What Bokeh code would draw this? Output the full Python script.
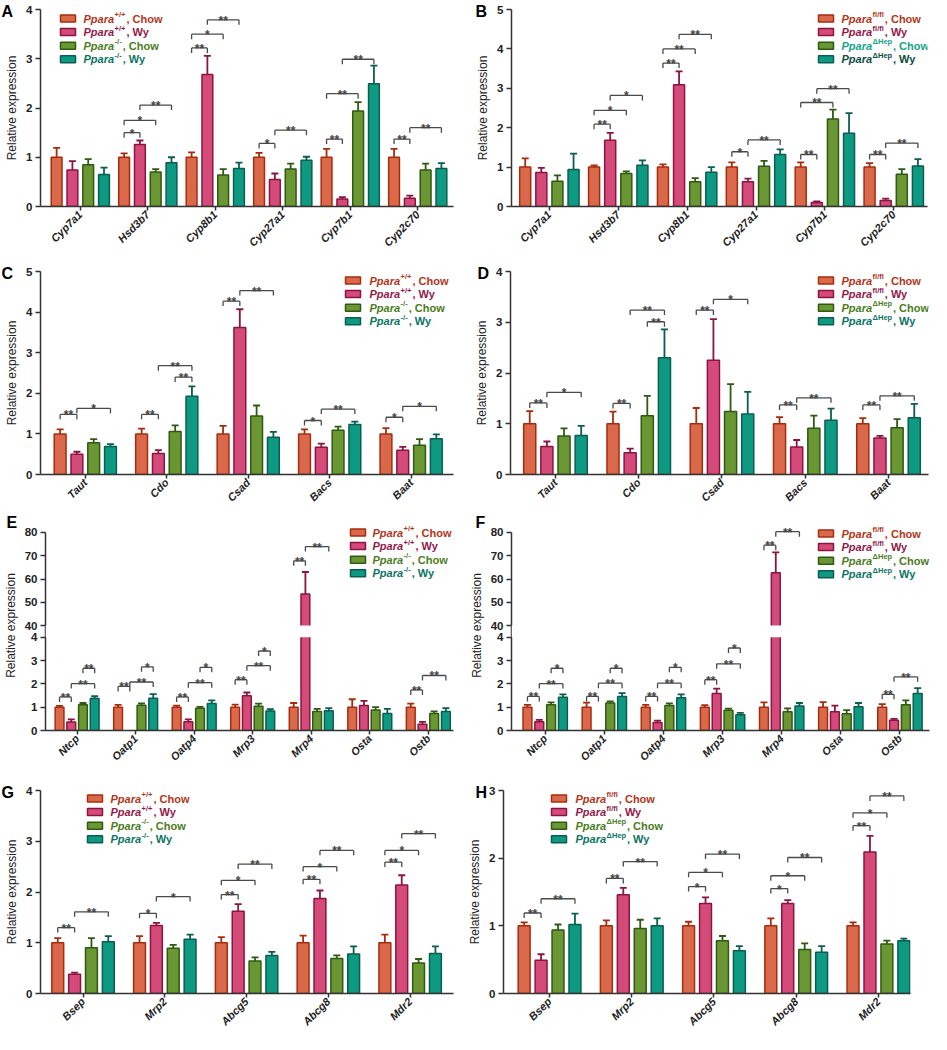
import math
import numpy as np
from bokeh.plotting import figure
from bokeh.models import (ColumnDataSource, Range1d, FixedTicker, Whisker, TeeHead,
                          Label, BoxAnnotation)
from bokeh.layouts import column, row
from bokeh.embed import file_html
from bokeh.resources import INLINE
from bokeh.core.properties import value
from bokeh.transform import dodge

FONT = "Liberation Sans"
NAN = float("nan")

# ---------------- data ----------------
genes_AB = ["Cyp7a1", "Hsd3b7", "Cyp8b1", "Cyp27a1", "Cyp7b1", "Cyp2c70"]
genes_CD = ["Taut", "Cdo", "Csad", "Bacs", "Baat"]
genes_EF = ["Ntcp", "Oatp1", "Oatp4", "Mrp3", "Mrp4", "Osta", "Ostb"]
genes_GH = ["Bsep", "Mrp2", "Abcg5", "Abcg8", "Mdr2"]

# Panel A (Ppara+/+ vs Ppara-/-)
A_chow_wt = [1.00, 1.00, 1.00, 1.00, 1.00, 1.00]
A_wy_wt = [0.74, 1.26, 2.68, 0.55, 0.15, 0.17]
A_chow_ko = [0.85, 0.70, 0.64, 0.76, 1.94, 0.74]
A_wy_ko = [0.65, 0.89, 0.77, 0.94, 2.49, 0.77]
A_sem_chow_wt = [0.19, 0.08, 0.10, 0.09, 0.17, 0.17]
A_sem_wy_wt = [0.18, 0.08, 0.38, 0.12, 0.04, 0.05]
A_sem_chow_ko = [0.11, 0.06, 0.12, 0.11, 0.18, 0.13]
A_sem_wy_ko = [0.14, 0.11, 0.12, 0.07, 0.37, 0.11]
A_brackets = [("Hsd3b7", 0, 1, 1.50, "*"), ("Hsd3b7", 0, 2, 1.75, "*"), ("Hsd3b7", 1, 3, 2.06, "**"),
              ("Cyp8b1", 0, 1, 3.22, "**"), ("Cyp8b1", 0, 2, 3.50, "*"), ("Cyp8b1", 1, 3, 3.79, "**"),
              ("Cyp27a1", 0, 1, 1.28, "*"), ("Cyp27a1", 1, 3, 1.55, "**"),
              ("Cyp7b1", 0, 1, 1.37, "**"), ("Cyp7b1", 0, 2, 2.29, "**"), ("Cyp7b1", 1, 3, 2.99, "**"),
              ("Cyp2c70", 0, 1, 1.37, "**"), ("Cyp2c70", 1, 3, 1.60, "**")]

# Panel B (Ppara fl/fl vs Ppara dHep)
B_chow_wt = [1.00, 1.00, 1.00, 1.00, 1.00, 1.00]
B_wy_wt = [0.86, 1.68, 3.09, 0.63, 0.10, 0.15]
B_chow_ko = [0.64, 0.84, 0.63, 1.02, 2.22, 0.82]
B_wy_ko = [0.94, 1.05, 0.87, 1.32, 1.86, 1.03]
B_sem_chow_wt = [0.22, 0.04, 0.07, 0.12, 0.12, 0.10]
B_sem_wy_wt = [0.12, 0.19, 0.34, 0.08, 0.03, 0.05]
B_sem_chow_ko = [0.15, 0.05, 0.09, 0.14, 0.24, 0.13]
B_sem_wy_ko = [0.40, 0.12, 0.13, 0.13, 0.51, 0.17]
B_brackets = [("Hsd3b7", 0, 1, 2.09, "**"), ("Hsd3b7", 0, 2, 2.44, "*"), ("Hsd3b7", 1, 3, 2.82, "*"),
              ("Cyp8b1", 0, 1, 3.64, "**"), ("Cyp8b1", 0, 2, 4.00, "**"), ("Cyp8b1", 1, 3, 4.37, "**"),
              ("Cyp27a1", 0, 1, 1.39, "*"), ("Cyp27a1", 1, 3, 1.69, "**"),
              ("Cyp7b1", 0, 1, 1.32, "**"), ("Cyp7b1", 0, 2, 2.64, "**"), ("Cyp7b1", 1, 3, 2.99, "**"),
              ("Cyp2c70", 0, 1, 1.32, "**"), ("Cyp2c70", 1, 3, 1.61, "**")]

# Panel C
C_chow_wt = [1.00, 1.00, 1.00, 1.00, 1.00]
C_wy_wt = [0.50, 0.52, 3.62, 0.67, 0.60]
C_chow_ko = [0.78, 1.06, 1.44, 1.09, 0.72]
C_wy_ko = [0.69, 1.93, 0.92, 1.23, 0.88]
C_sem_chow_wt = [0.11, 0.13, 0.20, 0.11, 0.14]
C_sem_wy_wt = [0.06, 0.08, 0.45, 0.09, 0.08]
C_sem_chow_ko = [0.09, 0.15, 0.26, 0.09, 0.15]
C_sem_wy_ko = [0.06, 0.24, 0.13, 0.07, 0.11]
C_brackets = [("Taut", 0, 1, 1.48, "**"), ("Taut", 1, 3, 1.63, "*"),
              ("Cdo", 0, 1, 1.48, "**"), ("Cdo", 2, 3, 2.40, "**"), ("Cdo", 1, 3, 2.68, "**"),
              ("Csad", 0, 1, 4.27, "**"), ("Csad", 1, 3, 4.53, "**"),
              ("Bacs", 0, 1, 1.33, "*"), ("Bacs", 1, 3, 1.61, "**"),
              ("Baat", 0, 1, 1.41, "*"), ("Baat", 1, 3, 1.68, "*")]

# Panel D
D_chow_wt = [1.00, 1.00, 1.00, 1.00, 1.00]
D_wy_wt = [0.55, 0.43, 2.25, 0.54, 0.72]
D_chow_ko = [0.76, 1.16, 1.24, 0.91, 0.92]
D_wy_ko = [0.77, 2.30, 1.19, 1.07, 1.12]
D_sem_chow_wt = [0.25, 0.24, 0.31, 0.13, 0.11]
D_sem_wy_wt = [0.10, 0.08, 0.81, 0.14, 0.04]
D_sem_chow_ko = [0.15, 0.39, 0.54, 0.25, 0.17]
D_sem_wy_ko = [0.19, 0.56, 0.44, 0.23, 0.27]
D_brackets = [("Taut", 0, 1, 1.41, "**"), ("Taut", 1, 3, 1.62, "*"),
              ("Cdo", 0, 1, 1.40, "**"), ("Cdo", 2, 3, 3.01, "**"), ("Cdo", 1, 3, 3.24, "**"),
              ("Csad", 0, 1, 3.24, "**"), ("Csad", 1, 3, 3.45, "*"),
              ("Bacs", 0, 1, 1.37, "**"), ("Bacs", 1, 3, 1.51, "**"),
              ("Baat", 0, 1, 1.37, "**"), ("Baat", 1, 3, 1.55, "**")]

# Panel E (broken axis 0-4 / 40-80)
E_chow_wt = [1.00, 1.00, 1.00, 1.00, 1.00, 1.00, 1.00]
E_wy_wt = [0.37, NAN, 0.38, 1.49, 53.6, 1.07, 0.27]
E_chow_ko = [1.10, 1.08, 0.95, 1.04, 0.82, 0.88, 0.73]
E_wy_ko = [1.37, 1.38, 1.16, 0.84, 0.85, 0.73, 0.82]
E_sem_chow_wt = [0.06, 0.10, 0.07, 0.11, 0.18, 0.34, 0.15]
E_sem_wy_wt = [0.11, NAN, 0.10, 0.14, 9.4, 0.20, 0.10]
E_sem_chow_ko = [0.08, 0.08, 0.06, 0.11, 0.11, 0.12, 0.09]
E_sem_wy_ko = [0.10, 0.18, 0.13, 0.08, 0.11, 0.20, 0.14]
E_brackets = [("Ntcp", 0, 1, 1.44, "**"), ("Ntcp", 1, 3, 2.01, "**"), ("Ntcp", 2, 3, 2.67, "**"),
              ("Oatp1", 0, 1, 1.89, "**"), ("Oatp1", 1, 3, 2.08, "**"), ("Oatp1", 2, 3, 2.73, "*"),
              ("Oatp4", 0, 1, 1.44, "**"), ("Oatp4", 1, 3, 2.05, "**"), ("Oatp4", 2, 3, 2.71, "*"),
              ("Mrp3", 0, 1, 2.18, "**"), ("Mrp3", 1, 3, 2.78, "**"), ("Mrp3", 2, 3, 3.41, "*"),
              ("Mrp4", 0, 1, 67.8, "**"), ("Mrp4", 1, 3, 73.9, "**"),
              ("Ostb", 0, 1, 1.74, "**"), ("Ostb", 1, 3, 2.36, "**")]

# Panel F (broken axis 0-4 / 40-80)
F_chow_wt = [1.00, 1.00, 1.00, 1.00, 1.00, 1.00, 1.00]
F_wy_wt = [0.38, NAN, 0.34, 1.59, 62.7, 0.80, 0.44]
F_chow_ko = [1.11, 1.18, 1.07, 0.87, 0.80, 0.72, 1.10]
F_wy_ko = [1.43, 1.46, 1.41, 0.68, 1.05, 1.02, 1.59]
F_sem_chow_wt = [0.10, 0.20, 0.10, 0.09, 0.21, 0.22, 0.13]
F_sem_wy_wt = [0.08, NAN, 0.08, 0.21, 8.7, 0.27, 0.06]
F_sem_chow_ko = [0.10, 0.07, 0.09, 0.07, 0.15, 0.15, 0.19]
F_sem_wy_ko = [0.12, 0.14, 0.14, 0.08, 0.13, 0.16, 0.23]
F_brackets = [("Ntcp", 0, 1, 1.46, "**"), ("Ntcp", 1, 3, 2.01, "**"), ("Ntcp", 2, 3, 2.67, "*"),
              ("Oatp1", 0, 1, 1.46, "**"), ("Oatp1", 1, 3, 2.03, "**"), ("Oatp1", 2, 3, 2.67, "*"),
              ("Oatp4", 0, 1, 1.46, "**"), ("Oatp4", 1, 3, 2.03, "**"), ("Oatp4", 2, 3, 2.71, "*"),
              ("Mrp3", 0, 1, 2.18, "**"), ("Mrp3", 1, 3, 2.86, "**"), ("Mrp3", 2, 3, 3.54, "*"),
              ("Mrp4", 0, 1, 74.5, "**"), ("Mrp4", 1, 3, 80.3, "**"),
              ("Ostb", 0, 1, 1.55, "**"), ("Ostb", 1, 3, 2.30, "**")]

# Panel G
G_chow_wt = [1.00, 1.00, 1.00, 1.00, 1.00]
G_wy_wt = [0.38, 1.34, 1.62, 1.87, 2.14]
G_chow_ko = [0.90, 0.89, 0.64, 0.69, 0.60]
G_wy_ko = [1.02, 1.07, 0.75, 0.78, 0.79]
G_sem_chow_wt = [0.09, 0.13, 0.11, 0.14, 0.16]
G_sem_wy_wt = [0.03, 0.05, 0.14, 0.16, 0.19]
G_sem_chow_ko = [0.19, 0.07, 0.07, 0.06, 0.08]
G_sem_wy_ko = [0.11, 0.09, 0.07, 0.15, 0.14]
G_brackets = [("Bsep", 0, 1, 1.30, "**"), ("Bsep", 1, 3, 1.61, "**"),
              ("Mrp2", 0, 1, 1.58, "*"), ("Mrp2", 1, 3, 1.91, "*"),
              ("Abcg5", 0, 1, 1.95, "**"), ("Abcg5", 0, 2, 2.23, "*"), ("Abcg5", 1, 3, 2.55, "**"),
              ("Abcg8", 0, 1, 2.25, "**"), ("Abcg8", 0, 2, 2.50, "*"), ("Abcg8", 1, 3, 2.82, "**"),
              ("Mdr2", 0, 1, 2.59, "**"), ("Mdr2", 0, 2, 2.82, "*"), ("Mdr2", 1, 3, 3.15, "**")]

# Panel H
H_chow_wt = [1.00, 1.00, 1.00, 1.00, 1.00]
H_wy_wt = [0.49, 1.46, 1.33, 1.33, 2.09]
H_chow_ko = [0.94, 0.96, 0.78, 0.65, 0.73]
H_wy_ko = [1.02, 1.00, 0.63, 0.61, 0.78]
H_sem_chow_wt = [0.05, 0.08, 0.06, 0.11, 0.05]
H_sem_wy_wt = [0.09, 0.10, 0.09, 0.05, 0.24]
H_sem_chow_ko = [0.08, 0.13, 0.07, 0.09, 0.05]
H_sem_wy_ko = [0.16, 0.11, 0.07, 0.09, 0.03]
H_brackets = [("Bsep", 0, 1, 1.19, "**"), ("Bsep", 1, 3, 1.40, "**"),
              ("Mrp2", 0, 1, 1.70, "**"), ("Mrp2", 1, 3, 1.95, "**"),
              ("Abcg5", 0, 1, 1.58, "*"), ("Abcg5", 0, 2, 1.79, "*"), ("Abcg5", 1, 3, 2.06, "**"),
              ("Abcg8", 0, 1, 1.55, "*"), ("Abcg8", 0, 2, 1.74, "*"), ("Abcg8", 1, 3, 2.01, "**"),
              ("Mdr2", 0, 1, 2.48, "**"), ("Mdr2", 0, 2, 2.67, "*"), ("Mdr2", 1, 3, 2.92, "**")]

# legend texts
LEG_BASE = "Ppara"
SUP_KO = ["+/+", "+/+", "-/-", "-/-"]
SUP_FL = ["fl/fl", "fl/fl", "\u0394Hep", "\u0394Hep"]
DIET = [", Chow", ", Wy", ", Chow", ", Wy"]

# ---------------- styles ----------------
FILL = ["#D9694A", "#D44A78", "#6A9633", "#0E9A82"]
EDGE = ["#A82C0C", "#8C1440", "#2F5A12", "#0A5E50"]
TXT = ["#B3361A", "#921A4A", "#4C7D1E", "#0B7563"]
TXT_B = ["#B3361A", "#921A4A", "#17A38A", "#0B4E40"]
INK = "#222222"
BRK = "#4a4a4a"

BOLD_W = {' ': 278, ',': 278, '+': 584, '/': 278, '-': 333, 'f': 333, 'l': 278, 'P': 667,
          'p': 611, 'a': 556, 'r': 389, 'C': 722, 'h': 611, 'o': 611, 'w': 778, 'W': 944,
          'y': 556, 'H': 722, 'e': 556, '\u0394': 700}


def tw(s, size):
    return sum(BOLD_W.get(c, 600) for c in s) / 1000.0 * size


def build(letter, genes, means, sems, brackets, ymax, xr, fig_xy, size, borders,
          s_off, bar_w, legend, sups, txt_colors, letter_x, broken=False):
    fx, fy = fig_xy
    W, H = size
    bl, br, bt, bb = borders
    fl = fx + bl
    ft = fy + bt
    fb = fy + H - bb
    fh = fb - ft
    n = len(genes)
    # broken axis: 0-4 and 40-80 segments, with 12 px of head room above 80
    yend = 8.5 * fh / (fh - 12.0) if broken else ymax
    ppu = fh / yend

    p = figure(width=W, height=H, x_range=Range1d(xr[0], n + xr[1]), y_range=Range1d(0, yend),
               output_backend="svg", toolbar_location=None, tools="",
               min_border_left=bl, min_border_right=br, min_border_top=bt, min_border_bottom=bb)
    p.outline_line_color = None
    p.grid.visible = False
    if broken:
        p.extra_y_ranges = {"brk": Range1d(-5, 10 * yend - 5)}

    # panel letter (title, shifted into the left border)
    p.title.text = letter
    p.title.align = "left"
    p.title.offset = letter_x - fl
    p.title.standoff = -20
    p.title.vertical_align = "bottom"
    p.title.text_font = FONT
    p.title.text_font_size = "16px"
    p.title.text_font_style = "bold"
    p.title.text_color = "black"

    offs = [(-1.5 + k) * s_off for k in range(4)]
    xi = np.arange(n)

    def whisk(src, off, color, rng=None):
        kw = {"y_range_name": rng} if rng else {}
        p.add_layout(Whisker(source=src, base=dodge("xi", off), lower="lower", upper="upper",
                             dimension="height", line_color=color, line_width=1.8,
                             upper_head=TeeHead(size=7, line_color=color, line_width=1.8),
                             lower_head=None, level="glyph", **kw))

    for g in range(4):
        m = np.array(means[g], dtype=float)
        s = np.array(sems[g], dtype=float)
        ok = ~np.isnan(m)
        if broken:
            low = ok & (m <= 4)
            high = ok & (m > 4)
            src = ColumnDataSource(dict(xi=xi[ok], top=np.minimum(m[ok], 4.3)))
            p.vbar(x=dodge("xi", offs[g]), top="top", bottom=0, width=bar_w, source=src,
                   fill_color=FILL[g], line_color=EDGE[g], line_width=1.5)
            wsrc = ColumnDataSource(dict(xi=xi[low], lower=m[low], upper=(m + s)[low]))
            whisk(wsrc, offs[g], EDGE[g])
            if high.any():
                hsrc = ColumnDataSource(dict(xi=xi[high], top=m[high], lower=m[high],
                                             upper=(m + s)[high]))
                p.vbar(x=dodge("xi", offs[g]), top="top", bottom=38, width=bar_w, source=hsrc,
                       fill_color=FILL[g], line_color=EDGE[g], line_width=1.5,
                       y_range_name="brk")
                whisk(hsrc, offs[g], EDGE[g], "brk")
        else:
            src = ColumnDataSource(dict(xi=xi[ok], top=m[ok], lower=m[ok], upper=(m + s)[ok]))
            p.vbar(x=dodge("xi", offs[g]), top="top", bottom=0, width=bar_w, source=src,
                   fill_color=FILL[g], line_color=EDGE[g], line_width=1.5)
            whisk(src, offs[g], EDGE[g])

    if broken:
        p.add_layout(BoxAnnotation(bottom=4.0, top=4.5, fill_color="white", fill_alpha=1.0,
                                   line_alpha=0))

    # significance brackets
    for rng in ([None, "brk"] if broken else [None]):
        sel = [b for b in brackets if (b[3] > 10) == (rng == "brk")]
        if not sel:
            continue
        drop = 5.0 / (ppu if rng is None else ppu / 10.0)
        x0s, y0s, x1s, y1s, tx, ty, tt = [], [], [], [], [], [], []
        for gene, g1, g2, yb, lab in sel:
            i = genes.index(gene)
            a, b = i + offs[g1], i + offs[g2]
            x0s += [a, a, b]
            x1s += [b, a, b]
            y0s += [yb, yb, yb]
            y1s += [yb, yb - drop, yb - drop]
            tx.append((a + b) / 2)
            ty.append(yb)
            tt.append(lab)
        kw = {"y_range_name": rng} if rng else {}
        p.segment(x0=x0s, y0=y0s, x1=x1s, y1=y1s, line_color=BRK, line_width=1.3, **kw)
        p.text(x=tx, y=ty, text=tt, text_font=value(FONT), text_font_size=value("12px"),
               text_font_style="bold", text_color="#444444", text_align="center",
               text_baseline="alphabetic", y_offset=1, **kw)

    # axes
    yax = p.yaxis[0]
    if broken:
        yax.ticker = FixedTicker(ticks=[0, 1, 2, 3, 4, 4.5, 5.5, 6.5, 7.5, 8.5])
        yax.major_label_overrides = {4.5: "40", 5.5: "50", 6.5: "60", 7.5: "70", 8.5: "80"}
        yax.bounds = (0, 8.5)
    else:
        yax.ticker = FixedTicker(ticks=list(range(0, ymax + 1)))
    yax.axis_label = "Relative expression"
    yax.axis_label_text_font = FONT
    yax.axis_label_text_font_size = "12px"
    yax.axis_label_text_font_style = "normal"
    yax.axis_label_text_color = INK
    yax.axis_label_standoff = 4
    yax.major_label_text_font = FONT
    yax.major_label_text_font_size = "11.5px"
    yax.major_label_text_font_style = "bold"
    yax.major_label_text_color = INK
    yax.major_label_standoff = 3
    yax.major_tick_in = 0
    yax.major_tick_out = 5
    yax.minor_tick_line_color = None

    xax = p.xaxis[0]
    xax.ticker = FixedTicker(ticks=list(range(n)))
    xax.major_label_overrides = {i: gname for i, gname in enumerate(genes)}
    xax.major_label_orientation = math.pi / 4
    xax.major_label_text_font = FONT
    xax.major_label_text_font_size = "11px"
    xax.major_label_text_font_style = "bold italic"
    xax.major_label_text_color = INK
    xax.major_label_standoff = 2
    xax.major_tick_in = 0
    xax.major_tick_out = 4
    xax.minor_tick_line_color = None

    for ax in (xax, yax):
        ax.axis_line_color = "#333333"
        ax.axis_line_width = 1.5
        ax.major_tick_line_color = "#333333"
        ax.major_tick_line_width = 1.5

    def sx(px):
        return px - fl

    def sy(py):
        return fb - py

    # legend
    swx, txx, y0, dy = legend
    fs, ss = 11, 7.5
    for k in range(4):
        cy = y0 + k * dy
        p.add_layout(BoxAnnotation(left=sx(swx), right=sx(swx + 15), top=sy(cy - 3.5),
                                   bottom=sy(cy + 3.5), left_units="screen", right_units="screen",
                                   top_units="screen", bottom_units="screen",
                                   fill_color=FILL[k], fill_alpha=1.0, line_color=EDGE[k],
                                   line_width=1.5, line_alpha=1.0))
        col = txt_colors[k]
        w0 = tw(LEG_BASE, fs) + 0.5
        w1 = tw(sups[k], ss) + 1.0
        p.add_layout(Label(x=sx(txx), y=sy(cy), x_units="screen", y_units="screen",
                           text=LEG_BASE, text_font=FONT, text_font_size=f"{fs}px",
                           text_font_style="bold italic", text_color=col,
                           text_baseline="middle", text_align="left"))
        p.add_layout(Label(x=sx(txx + w0), y=sy(cy - 4), x_units="screen", y_units="screen",
                           text=sups[k], text_font=FONT, text_font_size=f"{ss}px",
                           text_font_style="bold", text_color=col,
                           text_baseline="middle", text_align="left"))
        p.add_layout(Label(x=sx(txx + w0 + w1), y=sy(cy), x_units="screen", y_units="screen",
                           text=DIET[k], text_font=FONT, text_font_size=f"{fs}px",
                           text_font_style="bold", text_color=col,
                           text_baseline="middle", text_align="left"))
    return p


LW, RW = 465, 466
R1, R2, R3, R4 = (8, 255), (263, 256), (519, 259), (778, 264)

pA = build("A", genes_AB, [A_chow_wt, A_wy_wt, A_chow_ko, A_wy_ko],
           [A_sem_chow_wt, A_sem_wy_wt, A_sem_chow_ko, A_sem_wy_ko], A_brackets, 4, (-0.59, -0.47),
           (8, R1[0]), (LW, R1[1]), (40, 12, 9, 49), 0.234, 0.16, (68, 91, 26, 13.6),
           SUP_KO, TXT, 9)
pB = build("B", genes_AB, [B_chow_wt, B_wy_wt, B_chow_ko, B_wy_ko],
           [B_sem_chow_wt, B_sem_wy_wt, B_sem_chow_ko, B_sem_wy_ko], B_brackets, 5, (-0.55, -0.51),
           (473, R1[0]), (RW, R1[1]), (46, 4, 9, 49), 0.234, 0.16, (826, 849, 26, 13.6),
           SUP_FL, TXT_B, 483)
pC = build("C", genes_CD, [C_chow_wt, C_wy_wt, C_chow_ko, C_wy_ko],
           [C_sem_chow_wt, C_sem_wy_wt, C_sem_chow_ko, C_sem_wy_ko], C_brackets, 5, (-0.55, -0.48),
           (8, R2[0]), (LW, R2[1]), (40, 12, 16, 35), 0.206, 0.145, (353, 377, 290, 13.6),
           SUP_KO, TXT, 9)
pD = build("D", genes_CD, [D_chow_wt, D_wy_wt, D_chow_ko, D_wy_ko],
           [D_sem_chow_wt, D_sem_wy_wt, D_sem_chow_ko, D_sem_wy_ko], D_brackets, 4, (-0.54, -0.52),
           (473, R2[0]), (RW, R2[1]), (45, 3, 16, 35), 0.206, 0.145, (826, 849, 290, 13.6),
           SUP_FL, TXT, 485)
pE = build("E", genes_EF, [E_chow_wt, E_wy_wt, E_chow_ko, E_wy_ko],
           [E_sem_chow_wt, E_sem_wy_wt, E_sem_chow_ko, E_sem_wy_ko], E_brackets, 4, (-0.54, -0.57),
           (8, R3[0]), (LW, R3[1]), (40, 12, 9, 38), 0.2, 0.15, (353, 375, 542, 13.6),
           SUP_KO, TXT, 9, broken=True)
pF = build("F", genes_EF, [F_chow_wt, F_wy_wt, F_chow_ko, F_wy_ko],
           [F_sem_chow_wt, F_sem_wy_wt, F_sem_chow_ko, F_sem_wy_ko], F_brackets, 4, (-0.57, -0.5),
           (473, R3[0]), (RW, R3[1]), (46, 2, 9, 38), 0.2, 0.15, (826, 849, 543, 13.6),
           SUP_FL, TXT, 483, broken=True)
pG = build("G", genes_GH, [G_chow_wt, G_wy_wt, G_chow_ko, G_wy_ko],
           [G_sem_chow_wt, G_sem_wy_wt, G_sem_chow_ko, G_sem_wy_ko], G_brackets, 4, (-0.52, -0.47),
           (8, R4[0]), (LW, R4[1]), (40, 12, 20, 40), 0.206, 0.145, (95, 118, 807, 13.6),
           SUP_KO, TXT, 9)
pH = build("H", genes_GH, [H_chow_wt, H_wy_wt, H_chow_ko, H_wy_ko],
           [H_sem_chow_wt, H_sem_wy_wt, H_sem_chow_ko, H_sem_wy_ko], H_brackets, 3, (-0.56, -0.61),
           (473, R4[0]), (RW, R4[1]), (38, 21, 20, 40), 0.206, 0.145, (559, 583, 807, 13.6),
           SUP_FL, TXT, 483)

layout = column(row(pA, pB), row(pC, pD), row(pE, pF), row(pG, pH))
open("out.html", "w").write(file_html(layout, INLINE))
